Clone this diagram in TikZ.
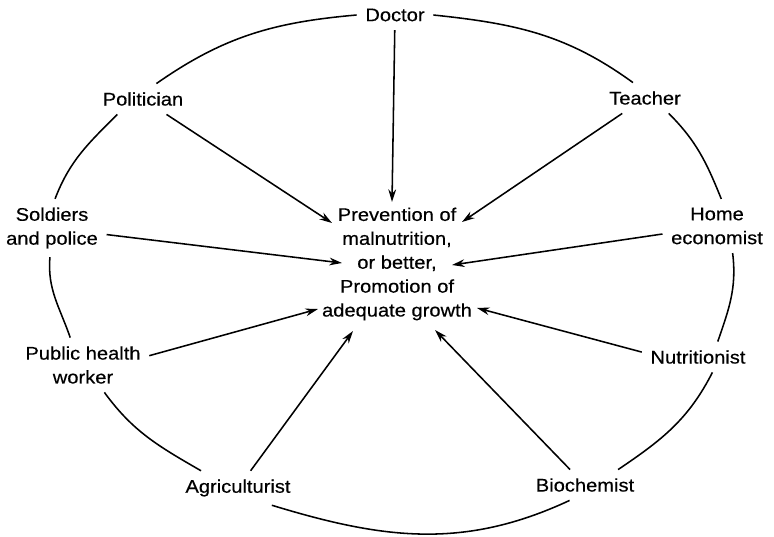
\documentclass[tikz,border=0pt]{standalone}
\usepackage{fontspec}
\setmainfont{Liberation Sans}[FakeStretch=1.1,FakeBold=0.4]
\usepackage{tikz}
\usetikzlibrary{arrows.meta,calc}

\begin{document}
\begin{tikzpicture}[x=0.025cm,y=-0.025cm,
  every node/.style={font=\fontsize{13}{17}\selectfont,align=center},
  role/.style={inner sep=6pt},
  ring/.style={line width=1.1pt},
  arr/.style={line width=1.1pt,-{Stealth[length=9pt,width=5.5pt]}}]
\useasboundingbox (0,0) rectangle (774,537);
\node (goal) at (397,264) {Prevention of\\malnutrition,\\or better,\\Promotion of\\adequate growth};
\node[role] (doctor) at (395,15) {Doctor};
\node[role] (politician) at (143,99) {Politician};
\node[role] (teacher) at (645,98) {Teacher};
\node[role] (soldiers) at (52,228) {Soldiers\\and police};
\node[role] (homeec) at (717,226) {Home\\economist};
\node[role] (health) at (83,365) {Public health\\worker};
\node[role] (nutritionist) at (698,357) {Nutritionist};
\node[role] (agriculturist) at (238,488) {Agriculturist};
\node[role] (biochemist) at (585,485) {Biochemist};
\draw[arr] (doctor) -- ($(goal)+(-5,-62)$);
\draw[arr] (politician) -- ($(goal)+(-65,-41)$);
\draw[arr] (teacher) -- ($(goal)+(65,-42)$);
\draw[arr] (soldiers) -- ($(goal)+(-55,-1)$);
\draw[arr] (homeec) -- ($(goal)+(55,1)$);
\draw[arr] (health.8) -- ($(goal)+(-79,45)$);
\draw[arr] (nutritionist.175) -- ($(goal)+(80,44)$);
\draw[arr] (agriculturist) -- ($(goal)+(-44,67)$);
\draw[arr] (biochemist) -- ($(goal)+(38,66)$);
\draw[ring] (doctor.west) to[out=185,in=35] (politician.49);
\draw[ring] (politician.211) to[out=225,in=69] (soldiers.84);
\draw[ring] (soldiers.266) to[out=265,in=109] (health.115);
\draw[ring] (health.308) to[out=306,in=150] (agriculturist.155);
\draw[ring] (agriculturist.333) to[out=343,in=205] (biochemist.225);
\draw[ring] (biochemist.25) to[out=34,in=243] (nutritionist.313);
\draw[ring] (nutritionist.38) to[out=71,in=277] (homeec.300);
\draw[ring] (homeec.81) to[out=112,in=315] (teacher.327);
\draw[ring] (teacher.128) to[out=144,in=354] (doctor.east);
\end{tikzpicture}
\end{document}
